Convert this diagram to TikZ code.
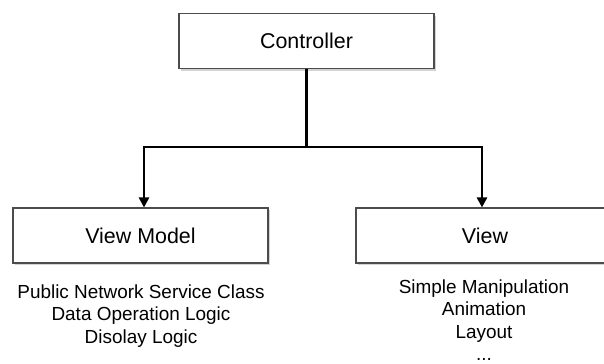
\documentclass[tikz,border=0pt]{standalone}
\usepackage{fontspec}
\setmainfont{Liberation Sans}
\usetikzlibrary{shadows,arrows.meta}

\begin{document}
\begin{tikzpicture}[x=1bp, y=-1bp,
    box/.style={draw=black!70, line width=1.1bp, fill=white,
        minimum width=255bp, minimum height=55bp, inner sep=0pt,
        font=\fontsize{21.5}{25}\selectfont,
        drop shadow={shadow xshift=2bp, shadow yshift=-2bp, opacity=0.35}},
    note/.style={align=center, font=\fontsize{19}{22.5}\selectfont},
    link/.style={line width=2.6bp, -{Triangle[length=10bp, width=10bp]}}]
    \useasboundingbox (0,0) rectangle (604,363);
    % boxes
    \node[box] at (306.5,41) (ctrl) {Controller};
    \node[box] at (140.5,235.5) (vm) {View Model};
    \node[box, minimum width=258bp] at (485,235.5) (view) {View};
    % connectors
    \coordinate (split) at (306.5,147);
    \draw[link] (ctrl.south) -- (split) -| ([xshift=3.5bp]vm.north);
    \draw[link] (ctrl.south) -- (split) -| ([xshift=-3bp]view.north);
    % notes
    \node[note] at (141,316) (vmnote) {Public Network Service Class\\Data Operation Logic\\Disolay Logic};
    \node[note] at (484,320) (viewnote) {Simple Manipulation\\Animation\\Layout\\...};
\end{tikzpicture}
\end{document}
